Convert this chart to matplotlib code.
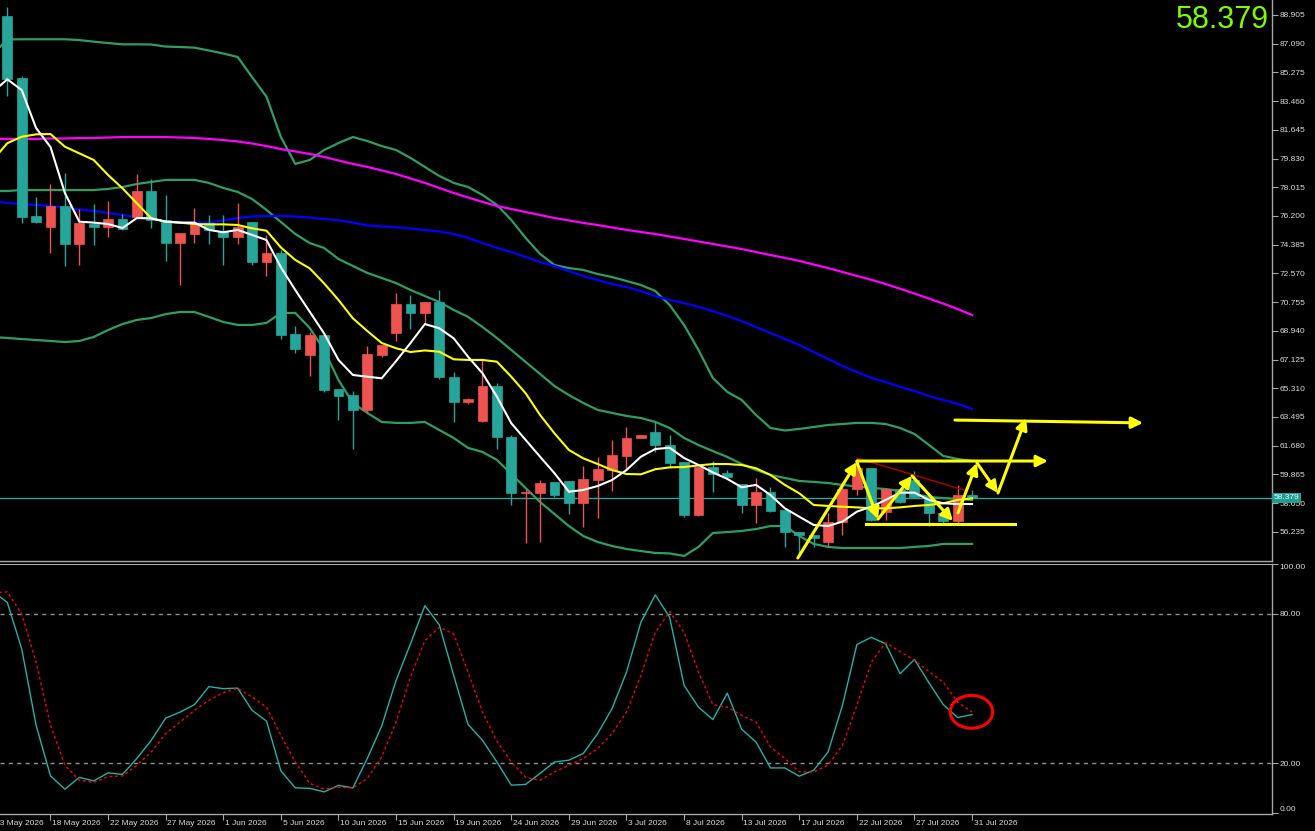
import matplotlib
matplotlib.use('Agg')
import matplotlib.pyplot as plt
from matplotlib.patches import Rectangle, Ellipse
from matplotlib.transforms import blended_transform_factory
import numpy as np

plt.rcParams['font.family'] = ['Liberation Sans', 'DejaVu Sans']

# ---------------- data ----------------
date_labels = ["13 May 2026", "18 May 2026", "22 May 2026", "27 May 2026", "1 Jun 2026",
               "5 Jun 2026", "10 Jun 2026", "15 Jun 2026", "19 Jun 2026", "24 Jun 2026",
               "29 Jun 2026", "3 Jul 2026", "8 Jul 2026", "13 Jul 2026", "17 Jul 2026",
               "22 Jul 2026", "27 Jul 2026", "31 Jul 2026"]

open_ = [88.84, 84.94, 76.20, 75.48, 76.83, 74.41, 75.69, 75.52, 76.01, 76.15, 77.80, 75.94, 74.47, 75.04,
         75.78, 75.21, 74.85, 75.80, 73.31, 73.88, 68.74, 67.41, 68.66, 65.24, 64.88, 63.94, 67.41, 68.82,
         70.64, 70.05, 70.74, 66.04, 64.46, 63.26, 65.45, 62.21, 58.67, 58.67, 59.37, 59.45, 58.04, 59.51,
         60.14, 61.03, 62.14, 62.53, 61.72, 60.63, 57.30, 60.31, 59.97, 59.26, 57.93, 58.77, 57.61, 56.24,
         56.04, 55.61, 56.87, 58.92, 60.25, 57.51, 58.92, 59.51, 58.46, 57.41, 56.94, 58.56]
close = [84.88, 76.15, 75.84, 76.83, 74.41, 75.74, 75.52, 75.99, 75.36, 77.80, 75.94, 74.47, 75.10, 75.69,
         75.31, 74.85, 75.52, 73.31, 73.88, 68.66, 67.81, 68.66, 65.20, 64.84, 63.94, 67.48, 68.02, 70.64,
         70.05, 70.74, 66.00, 64.46, 64.61, 65.45, 62.21, 58.67, 58.73, 59.30, 58.56, 58.04, 59.56, 60.19,
         61.09, 62.14, 62.35, 61.72, 60.57, 57.30, 60.31, 59.89, 59.72, 57.93, 58.77, 57.57, 56.24, 56.04,
         55.83, 56.87, 58.92, 60.25, 56.98, 58.92, 58.14, 58.46, 57.41, 56.94, 58.56, 58.379]
high = [89.43, 85.05, 77.38, 78.22, 78.90, 76.62, 76.96, 77.13, 76.33, 78.85, 78.52, 77.53, 75.12, 76.69,
        76.26, 76.26, 77.00, 75.80, 75.00, 74.05, 69.27, 68.89, 68.66, 65.24, 65.16, 67.98, 68.02, 71.31,
        71.20, 70.74, 71.52, 66.36, 64.70, 67.10, 65.66, 62.34, 58.92, 59.51, 59.37, 59.45, 60.40, 60.98,
        62.04, 62.88, 62.35, 63.20, 62.35, 60.63, 60.31, 60.73, 60.14, 59.26, 59.62, 59.07, 57.61, 56.24,
        56.04, 57.41, 59.30, 60.88, 60.25, 58.92, 59.00, 60.10, 58.46, 57.61, 59.20, 58.88]
low = [83.78, 75.74, 75.74, 73.84, 73.04, 73.10, 74.37, 74.89, 75.31, 76.07, 75.42, 73.37, 71.84, 74.51,
       74.40, 73.10, 74.43, 73.10, 72.43, 68.42, 67.52, 66.09, 65.09, 63.30, 61.45, 63.73, 67.29, 68.32,
       69.04, 69.37, 65.88, 63.20, 64.32, 63.20, 61.45, 57.93, 55.55, 55.61, 58.42, 57.36, 56.52, 57.09,
       58.84, 60.19, 62.14, 61.30, 60.25, 57.15, 57.24, 58.77, 59.64, 57.41, 56.78, 57.51, 55.30, 54.77,
       55.30, 55.30, 56.04, 58.56, 56.94, 56.98, 58.06, 58.37, 56.60, 56.78, 56.78, 58.31]

# indicator lines, first value belongs to the bar before the first visible candle
ma_fast = [84.04, 84.84, 84.16, 81.76, 80.56, 77.65, 75.84, 75.78, 75.69, 75.44, 76.07, 76.05, 75.84, 75.78,
           75.78, 75.32, 75.17, 75.32, 75.00, 74.68, 72.96, 71.52, 70.15, 68.78, 67.10, 66.15, 66.04, 65.94,
           67.03, 68.17, 69.37, 69.10, 68.47, 67.30, 66.26, 64.78, 63.10, 62.04, 60.98, 59.94, 58.77, 58.88,
           59.13, 59.51, 60.14, 60.98, 61.47, 61.55, 60.90, 60.46, 59.99, 59.58, 59.05, 59.20, 58.56, 57.72,
           57.19, 56.67, 56.60, 56.88, 57.51, 57.82, 58.25, 58.71, 58.71, 58.25, 58.04, 57.99, 57.99]
ma_slow = [79.74, 80.80, 81.21, 81.36, 81.38, 80.58, 80.16, 79.74, 78.79, 77.95, 77.00, 76.05, 75.84, 75.78,
           75.69, 75.67, 75.67, 75.63, 75.42, 75.27, 74.21, 73.42, 72.89, 71.94, 70.89, 69.73, 68.93, 68.17,
           67.84, 67.60, 67.70, 67.62, 67.14, 67.10, 67.10, 66.99, 66.04, 64.99, 63.62, 62.46, 61.41, 60.88,
           60.52, 60.14, 59.89, 59.87, 60.19, 60.31, 60.33, 60.43, 60.52, 60.52, 60.46, 60.25, 59.83, 59.20,
           58.67, 57.93, 57.87, 57.82, 57.78, 57.72, 57.72, 57.78, 57.87, 57.93, 58.04, 58.25, 58.35]
ma_blue = [77.15, 77.02, 76.96, 76.89, 76.83, 76.70, 76.61, 76.52, 76.39, 76.26, 76.14, 76.01, 75.88, 75.82,
           75.79, 75.79, 75.92, 76.07, 76.17, 76.20, 76.20, 76.17, 76.10, 76.01, 75.92, 75.79, 75.60, 75.54,
           75.49, 75.41, 75.31, 75.22, 75.06, 74.81, 74.49, 74.18, 73.92, 73.61, 73.29, 73.04, 72.72, 72.41,
           72.15, 71.90, 71.71, 71.46, 71.14, 70.89, 70.70, 70.45, 70.19, 69.88, 69.56, 69.18, 68.80, 68.42,
           68.05, 67.60, 67.16, 66.72, 66.34, 65.96, 65.71, 65.39, 65.14, 64.82, 64.57, 64.32, 64.00]
ma_magenta = [81.07, 81.07, 81.07, 81.07, 81.10, 81.10, 81.13, 81.13, 81.16, 81.19, 81.19, 81.19, 81.19,
              81.16, 81.13, 81.07, 81.00, 80.91, 80.78, 80.62, 80.43, 80.28, 80.12, 79.93, 79.71, 79.49,
              79.30, 79.08, 78.85, 78.57, 78.29, 77.97, 77.65, 77.37, 77.09, 76.83, 76.64, 76.45, 76.26,
              76.07, 75.92, 75.76, 75.63, 75.47, 75.32, 75.19, 75.06, 74.90, 74.75, 74.59, 74.43, 74.27,
              74.11, 73.92, 73.73, 73.55, 73.36, 73.13, 72.91, 72.66, 72.41, 72.17, 71.90, 71.60, 71.30,
              70.98, 70.66, 70.32, 69.94]
bb_upper = [86.44, 87.36, 87.37, 87.37, 87.37, 87.37, 87.32, 87.22, 87.13, 87.05, 87.05, 87.04, 86.91, 86.88,
            86.84, 86.66, 86.47, 86.25, 84.98, 83.74, 81.19, 79.49, 79.74, 80.37, 80.81, 81.19, 80.94, 80.62,
            80.37, 79.87, 79.30, 78.73, 78.29, 78.03, 77.53, 76.90, 75.95, 74.81, 73.80, 73.10, 72.91, 72.79,
            72.53, 72.34, 72.09, 71.84, 71.46, 70.57, 69.31, 67.73, 65.96, 65.08, 64.57, 63.62, 62.80, 62.64,
            62.74, 62.86, 62.99, 63.05, 63.12, 63.12, 63.05, 62.80, 62.42, 61.73, 61.03, 60.84, 60.71]
bb_middle = [77.78, 77.78, 77.84, 77.84, 77.84, 77.84, 77.84, 77.84, 77.91, 78.03, 78.22, 78.35, 78.48, 78.48,
             78.48, 78.29, 77.97, 77.72, 77.27, 76.58, 75.82, 75.06, 74.49, 74.18, 73.48, 73.04, 72.60, 72.28,
             71.96, 71.52, 71.14, 70.76, 70.26, 69.82, 69.18, 68.49, 67.73, 66.97, 66.21, 65.45, 64.88, 64.38,
             63.94, 63.75, 63.56, 63.43, 63.18, 62.80, 62.17, 61.72, 61.34, 60.97, 60.52, 60.14, 59.83, 59.64,
             59.45, 59.39, 59.32, 59.20, 59.10, 59.01, 58.94, 58.82, 58.63, 58.44, 58.37, 58.31, 58.25]
bb_lower = [68.55, 68.49, 68.42, 68.36, 68.30, 68.23, 68.30, 68.55, 68.99, 69.37, 69.63, 69.75, 70.00, 70.13,
            70.13, 69.82, 69.50, 69.31, 69.31, 69.44, 70.07, 70.07, 69.12, 67.73, 65.83, 64.38, 63.75, 63.18,
            63.12, 63.12, 63.18, 62.67, 62.17, 61.54, 61.28, 60.78, 59.89, 59.00, 58.12, 57.36, 56.60, 55.97,
            55.59, 55.34, 55.15, 55.02, 54.90, 54.87, 54.71, 55.28, 56.16, 56.22, 56.29, 56.41, 56.60, 56.60,
            55.97, 55.47, 55.28, 55.21, 55.21, 55.21, 55.21, 55.21, 55.28, 55.34, 55.47, 55.47, 55.47]

stoch_k = [88.9, 84.6, 66.0, 35.3, 15.0, 9.7, 14.4, 13.0, 16.2, 15.6, 22.0, 29.3, 38.2, 40.6, 43.6, 50.8,
           50.0, 50.2, 41.3, 37.0, 17.0, 10.2, 10.0, 8.6, 11.2, 10.2, 22.0, 35.0, 53.3, 68.0, 83.3, 75.6,
           55.3, 35.6, 29.3, 20.6, 11.3, 11.6, 16.0, 20.6, 21.3, 24.0, 32.0, 42.0, 56.6, 76.6, 87.6, 78.6,
           51.3, 42.6, 37.6, 48.2, 33.7, 28.6, 18.2, 18.2, 14.9, 17.3, 24.6, 43.3, 67.7, 70.6, 68.0, 56.0,
           61.7, 52.4, 43.6, 38.4, 39.6]
stoch_d = [88.5, 88.8, 80.0, 60.6, 35.3, 19.3, 13.3, 12.4, 14.7, 15.0, 19.3, 24.6, 32.0, 36.6, 41.3, 45.3,
           48.4, 50.2, 46.6, 42.6, 31.3, 20.6, 12.0, 9.7, 10.4, 10.2, 14.0, 22.6, 36.6, 54.6, 69.3, 74.6,
           72.0, 56.6, 40.6, 29.0, 20.6, 14.4, 13.3, 16.6, 19.3, 22.0, 26.0, 32.0, 40.6, 55.3, 72.6, 80.9,
           72.6, 56.6, 43.6, 42.6, 39.3, 36.6, 26.6, 22.0, 16.6, 16.6, 19.3, 27.3, 43.3, 60.6, 68.4, 64.9,
           61.3, 56.9, 52.6, 44.6, 40.6]

last_price = 58.379
price_ticks = [88.905, 87.090, 85.275, 83.460, 81.645, 79.830, 78.015, 76.200, 74.385, 72.570,
               70.755, 68.940, 67.125, 65.310, 63.495, 61.680, 59.865, 58.050, 56.235]
stoch_levels = [80, 20]

# drawn objects (bar index, price)
arrow_starts = [(54.9, 54.58), (59.0, 60.65), (60.47, 57.04), (62.83, 59.77), (66.02, 57.43),
                (67.34, 60.59), (68.80, 58.69), (65.81, 63.30), (59.0, 60.71)]
arrow_ends = [(59.0, 60.65), (60.47, 57.04), (62.83, 59.77), (65.67, 56.92), (67.34, 60.59),
              (68.80, 58.69), (70.75, 63.43), (78.87, 63.12), (72.27, 60.71)]
support_line = [(59.63, 56.73), (69.98, 56.73)]
trend_line = [(59.0, 60.90), (66.65, 58.82)]
circle_center = (66.96, 40.7)

# ---------------- figure ----------------
W, H = 1315, 831
fig = plt.figure(figsize=(W / 100, H / 100), dpi=100, facecolor='black')
AXR = 1272
ax = fig.add_axes([0, 1 - 561 / H, AXR / W, 561 / H], facecolor='black')
ax2 = fig.add_axes([0, 1 - 814 / H, AXR / W, 250 / H], facecolor='black')

xmin, xmax = -0.507, 87.83
ax.set_xlim(xmin, xmax)
ax.set_ylim(54.39, 89.853)
ax2.set_xlim(xmin, xmax)
ax2.set_ylim(-0.28, 99.72)

BULL = '#ef5350'
BEAR = '#26a69a'
n = len(open_)
for i in range(n):
    o, c, h, l = open_[i], close[i], high[i], low[i]
    col = BULL if c >= o else BEAR
    ax.vlines(i, l, h, color=col, lw=1.0, zorder=3)
    bh = max(abs(c - o), 0.08)
    ax.add_patch(Rectangle((i - 0.345, min(o, c)), 0.69, bh, facecolor=col, edgecolor=col,
                           lw=0.5, zorder=4))

xl = np.arange(-1, n)
band_col = '#2e9e62'
ax.plot(xl, bb_upper, color=band_col, lw=1.6, zorder=2)
ax.plot(xl, bb_middle, color=band_col, lw=1.6, zorder=2)
ax.plot(xl, bb_lower, color=band_col, lw=1.6, zorder=2)
ax.plot(xl, ma_magenta, color='#ff00ff', lw=1.6, zorder=2)
ax.plot(xl, ma_blue, color='#0000ff', lw=1.6, zorder=2)
ax.plot(xl, ma_slow, color='#ffff00', lw=1.5, zorder=5)
ax.plot(xl, ma_fast, color='#ffffff', lw=1.5, zorder=5)

ax.axhline(last_price, color='#26a69a', lw=1.0, zorder=1)

# drawn arrows
for s, e in zip(arrow_starts, arrow_ends):
    ax.annotate('', xy=e, xytext=s,
                arrowprops=dict(arrowstyle='-|>', color='#ffff00', lw=2.2, mutation_scale=17,
                                shrinkA=0, shrinkB=0), zorder=7)
ax.plot([p[0] for p in support_line], [p[1] for p in support_line], color='#ffff00', lw=2.2, zorder=7)
ax.plot([p[0] for p in trend_line], [p[1] for p in trend_line], color='#b00000', lw=1.0, zorder=6)

# axes styling
grey = '#a8a8a8'
txtc = '#d8d8d8'
for a in (ax, ax2):
    for sp in ('left', 'top'):
        a.spines[sp].set_visible(False)
    a.spines['right'].set_color(grey)
    a.spines['bottom'].set_color(grey)
    a.spines['right'].set_linewidth(1.0)
    a.spines['bottom'].set_linewidth(1.0)
ax2.spines['top'].set_visible(True)
ax2.spines['top'].set_color(grey)

ax.set_xticks([])
ax.yaxis.tick_right()
ax.set_yticks(price_ticks)
ax.set_yticklabels([f'{v:.3f}' for v in price_ticks])
ax.tick_params(axis='y', colors=grey, labelcolor=txtc, labelsize=6, length=4, width=0.8, pad=1.5)

# last price label on axis
ax.text(1 + 1.5 / AXR, last_price, f'{last_price:.3f}', transform=blended_transform_factory(ax.transAxes, ax.transData),
        ha='left', va='center', fontsize=6, color='#e8ffff', clip_on=False, zorder=20,
        bbox=dict(boxstyle='square,pad=0.18', facecolor='#1f9e92', edgecolor='none'))

# big price
fig.text(1269 / W, 1 - 20 / H, f'{last_price:.3f}', ha='right', va='center', fontsize=22,
         color='#7cfc00', family='Liberation Sans')

# stochastic
ax2.plot(xl, stoch_k, color='#20b2aa', lw=1.0, zorder=3)
ax2.plot(xl, stoch_d, color='#ff0000', lw=1.0, ls=(0, (2, 2)), zorder=3)
for lv in stoch_levels:
    ax2.axhline(lv, color='#909090', lw=1.0, ls=(0, (3, 3)), zorder=1)
ax2.add_patch(Ellipse(circle_center, 2.95, 13.2, fill=False, edgecolor='#ff0000', lw=2.2, zorder=6))

ax2.yaxis.tick_right()
ax2.set_yticks([0, 20, 80, 100])
ylabs = ax2.set_yticklabels(['0.00', '20.00', '80.00', '100.00'])
ylabs[0].set_va('bottom')
ylabs[3].set_va('top')
ax2.tick_params(axis='y', colors=grey, labelcolor=txtc, labelsize=6, length=4, width=0.8, pad=1.5)

tick_pos = [-1 + 4 * k for k in range(len(date_labels))]
vis = [p for p in tick_pos if p >= xmin]
ax2.set_xticks(vis)
ax2.set_xticklabels([])
ax2.tick_params(axis='x', colors=grey, length=4, width=0.8)
tr = blended_transform_factory(ax2.transData, ax2.transAxes)
for p, lab in zip(tick_pos, date_labels):
    ax2.text(p + 0.12, -9.5 / 250, lab, transform=tr, ha='left', va='center', fontsize=6,
             color=txtc, clip_on=False)

fig.savefig('out.png', dpi=100, facecolor='black')
